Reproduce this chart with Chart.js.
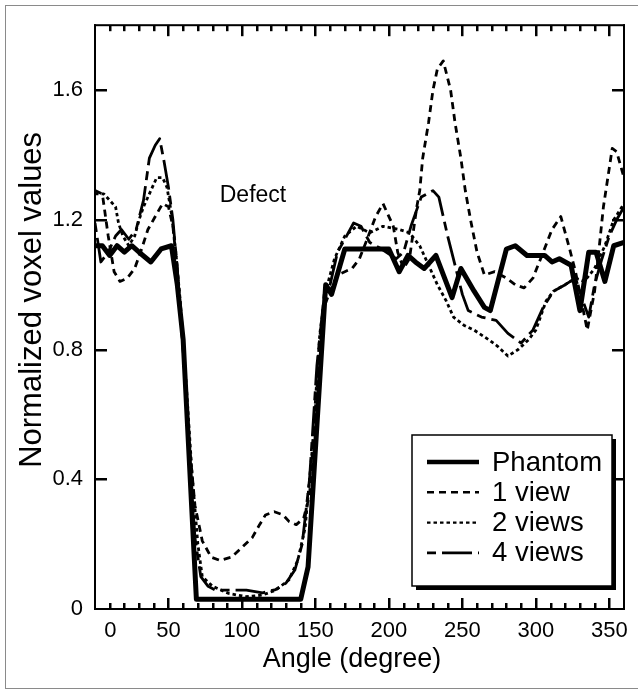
<!DOCTYPE html>
<html><head><meta charset="utf-8">
<style>
html,body{margin:0;padding:0;background:#fff;}
#wrap{position:relative;width:638px;height:694px;overflow:hidden;background:#fff;}
#frame{position:absolute;left:5px;top:5px;width:660px;height:684px;border:1px solid #8a8a8a;box-sizing:border-box;pointer-events:none;}
canvas{position:absolute;left:0;top:0;}
</style>
<script src="https://cdn.jsdelivr.net/npm/chart.js@4/dist/chart.umd.min.js"></script>
</head><body>
<div id="wrap"><canvas id="c" width="638" height="694"></canvas><div id="frame"></div></div>
<script>
// ---- data ----
const seriesLabels = ['Phantom', '1 view', '2 views', '4 views'];

const phantomAngles = [0,5,10,15,20,25,30,38,45,52,56,60,69,140,145,157,161,170,200,207,213,218,224,232,243,249,258,265,269,280,286,294,300,306,311,316,324,330,336,341,347,353,360];
const phantomValues = [1.12,1.12,1.09,1.12,1.10,1.12,1.10,1.07,1.11,1.12,1.00,0.83,0.03,0.03,0.13,1.00,0.97,1.11,1.11,1.04,1.09,1.07,1.05,1.09,0.96,1.05,0.98,0.93,0.92,1.11,1.12,1.09,1.09,1.09,1.07,1.08,1.06,0.92,1.10,1.10,1.01,1.12,1.13];

const view1Angles = [0,5,9,13,17,22,27,31,36,41,46,50,53,56,60,64,68,73,79,85,93,100,107,112,116,122,128,132,137,142,146,150,155,160,165,170,175,180,186,191,196,199,203,206,210,214,219,221,223,227,230,233,237,242,245,249,252,256,260,265,272,280,286,292,298,305,311,317,323,327,331,335,340,346,349,352,355,360];
const view1Values = [1.29,1.28,1.15,1.04,1.01,1.02,1.05,1.10,1.17,1.21,1.25,1.24,1.18,1.05,0.80,0.52,0.32,0.21,0.16,0.15,0.16,0.19,0.22,0.26,0.29,0.30,0.29,0.27,0.26,0.28,0.35,0.62,0.92,0.98,1.03,1.04,1.05,1.08,1.15,1.21,1.25,1.22,1.18,1.10,1.05,1.08,1.24,1.29,1.39,1.50,1.60,1.665,1.69,1.60,1.50,1.39,1.29,1.19,1.10,1.03,1.04,1.02,1.00,0.99,1.02,1.10,1.17,1.21,1.11,1.04,0.95,0.86,0.98,1.24,1.33,1.42,1.41,1.33];

const view2Angles = [0,6,10,14,16,19,23,27,30,33,38,42,46,49,52,55,58,62,66,70,73,80,91,103,114,123,132,138,143,148,153,157,163,170,178,187,196,207,214,221,227,233,239,244,251,258,268,274,281,288,295,300,307,312,320,327,333,340,347,353,360];
const view2Values = [1.28,1.28,1.26,1.24,1.19,1.15,1.12,1.15,1.20,1.24,1.29,1.33,1.33,1.30,1.22,1.10,0.95,0.70,0.42,0.20,0.10,0.07,0.048,0.038,0.043,0.058,0.09,0.15,0.25,0.50,0.85,0.98,1.08,1.15,1.18,1.16,1.18,1.17,1.16,1.12,1.06,1.00,0.95,0.90,0.875,0.86,0.83,0.81,0.78,0.80,0.83,0.86,0.95,0.98,1.00,1.02,1.01,1.05,1.12,1.20,1.25];

const view4Angles = [0,4,9,14,18,23,28,33,37,41,44,47,50,53,56,60,64,68,72,77,82,92,103,114,123,130,136,141,146,151,156,160,165,170,176,181,187,195,205,210,215,222,230,234,240,245,250,254,263,273,281,290,298,305,312,320,327,332,336,340,345,350,355,360];
const view4Values = [1.19,1.07,1.10,1.15,1.17,1.14,1.17,1.26,1.39,1.43,1.45,1.38,1.30,1.20,1.05,0.80,0.50,0.22,0.10,0.07,0.058,0.058,0.058,0.05,0.06,0.08,0.12,0.20,0.40,0.75,0.97,1.00,1.10,1.14,1.19,1.18,1.13,1.11,1.08,1.10,1.18,1.27,1.29,1.27,1.15,1.06,0.97,0.92,0.90,0.89,0.85,0.82,0.86,0.93,0.98,1.00,1.02,0.95,0.90,1.00,1.08,1.15,1.20,1.24];

const xTickLabels = ['0','50','100','150','200','250','300','350'];
const xTickValues = [0,50,100,150,200,250,300,350];
const xMinorTickValues = [10,20,30,40,50,60,70,80,90,100,110,120,130,140,150,160,170,180,190,200,210,220,230,240,250,260,270,280,290,300,310,320,330,340,350];
const yTickLabels = ['0','0.4','0.8','1.2','1.6'];
const yTickValues = [0,0.4,0.8,1.2,1.6];
const annotationText = 'Defect';
const annotationAngle = 107.5;
const annotationValue = 1.275;

// ---- chart ----
const FONT = '"Liberation Sans", Arial, Helvetica, sans-serif';
const pts = (a, v) => a.map((x, i) => ({x: x, y: v[i]}));

const frameTicks = {
  id: 'frameTicks',
  afterDraw(chart) {
    const ctx = chart.ctx;
    const a = chart.chartArea;
    const xs = chart.scales.x, ys = chart.scales.y;
    const L = a.left, R = a.right, T = a.top, B = a.bottom;
    ctx.save();
    ctx.setLineDash([]);
    ctx.globalCompositeOperation = 'source-over';
    ctx.fillStyle = '#000000';
    xMinorTickValues.forEach(v => {
      const px = Math.round(xs.getPixelForValue(v));
      const len = (xTickValues.indexOf(v) >= 0) ? 11 : 6;
      ctx.fillRect(px - 1, B - len, 2.5, len);
      ctx.fillRect(px - 1, T, 2.5, len);
    });
    yTickValues.forEach(v => {
      if (v === 0) return;
      const py = Math.round(ys.getPixelForValue(v));
      ctx.fillRect(L, py - 1, 12, 2.5);
      ctx.fillRect(R - 12, py - 1, 12, 2.5);
    });
    // plot frame
    ctx.fillRect(L - 1, T - 1, R - L + 2, 2);
    ctx.fillRect(L - 1, B - 1, R - L + 2, 2);
    ctx.fillRect(L - 1, T - 1, 2, B - T + 2);
    ctx.fillRect(R - 1, T - 1, 2, B - T + 2);
    ctx.font = '23px ' + FONT;
    ctx.textAlign = 'center';
    ctx.textBaseline = 'middle';
    ctx.fillText(annotationText, xs.getPixelForValue(annotationAngle), ys.getPixelForValue(annotationValue));
    ctx.restore();
  }
};

const boxLegend = {
  id: 'boxLegend',
  afterDraw(chart, args, o) {
    const ctx = chart.ctx;
    ctx.save();
    ctx.fillStyle = '#000';
    ctx.fillRect(o.left + o.shadow, o.top + o.shadow, o.width, o.height);
    ctx.fillStyle = '#fff';
    ctx.fillRect(o.left, o.top, o.width, o.height);
    ctx.strokeStyle = '#000';
    ctx.lineWidth = 1.5;
    ctx.strokeRect(o.left, o.top, o.width, o.height);
    chart.data.datasets.forEach((ds, i) => {
      const yy = o.top + o.firstRow + i * o.rowGap;
      ctx.strokeStyle = '#000';
      ctx.lineWidth = o.lineWidths[i];
      ctx.setLineDash(ds.borderDash || []);
      ctx.lineCap = 'butt';
      ctx.beginPath();
      ctx.moveTo(o.left + o.lineStart, yy);
      ctx.lineTo(o.left + o.lineEnd, yy);
      ctx.stroke();
      ctx.setLineDash([]);
      ctx.fillStyle = '#000';
      ctx.font = o.fontSize + 'px ' + FONT;
      ctx.textAlign = 'left';
      ctx.textBaseline = 'middle';
      ctx.fillText(ds.label, o.left + o.textX, yy + 1);
    });
    ctx.restore();
  }
};

const mk = (label, data, width, dash) => ({
  label: label, data: data, borderColor: '#000', backgroundColor: '#000',
  borderWidth: width, borderDash: dash, pointRadius: 0, tension: 0, fill: false,
  borderJoinStyle: 'round'
});

new Chart(document.getElementById('c'), {
  type: 'line',
  data: {
    datasets: [
      mk(seriesLabels[0], pts(phantomAngles, phantomValues), 5, []),
      mk(seriesLabels[1], pts(view1Angles, view1Values), 2.8, [7, 5]),
      mk(seriesLabels[2], pts(view2Angles, view2Values), 2.8, [3.5, 3]),
      mk(seriesLabels[3], pts(view4Angles, view4Values), 2.8, [9, 6, 30, 6])
    ]
  },
  options: {
    responsive: false,
    animation: false,
    devicePixelRatio: 1,
    layout: {padding: {left: 0, top: 22, right: 14, bottom: 0}},
    plugins: {
      legend: {display: false},
      tooltip: {enabled: false},
      boxLegend: {left: 412, top: 435, width: 200, height: 151, shadow: 4,
        firstRow: 27, rowGap: 30.3, lineStart: 15, lineEnd: 67, textX: 80, fontSize: 27.5,
        lineWidths: [4.5, 2.6, 2.4, 2.6]}
    },
    scales: {
      x: {
        type: 'linear', min: 0, max: 360,
        afterFit(s) { s.height = 85; },
        afterBuildTicks(s) { s.ticks = xTickValues.map(v => ({value: v})); },
        grid: {display: false, drawTicks: false},
        border: {display: false},
        ticks: {
          autoSkip: false, maxRotation: 0, padding: 9, color: '#000',
          font: {family: FONT, size: 22},
          callback(v) {
            const i = xTickValues.indexOf(v);
            if (i < 0) return '';
            return i === 0 ? '     ' + xTickLabels[i] : xTickLabels[i];
          }
        },
        title: {display: true, text: 'Angle (degree)  ', color: '#000',
          font: {family: FONT, size: 27}, padding: {top: 0, bottom: 18}}
      },
      y: {
        min: 0, max: 1.8,
        afterFit(s) { s.width = 95; },
        afterBuildTicks(s) { s.ticks = yTickValues.map(v => ({value: v})); },
        grid: {display: false, drawTicks: false},
        border: {display: false},
        ticks: {
          padding: 12, color: '#000',
          font: {family: FONT, size: 22},
          callback(v) {
            const i = yTickValues.findIndex(t => Math.abs(t - v) < 1e-6);
            return i < 0 ? '' : yTickLabels[i];
          }
        },
        title: {display: true, text: '    Normalized voxel values', color: '#000',
          font: {family: FONT, size: 31}, padding: {top: 14, bottom: 0}}
      }
    }
  },
  plugins: [frameTicks, boxLegend]
});
</script>
</body></html>
